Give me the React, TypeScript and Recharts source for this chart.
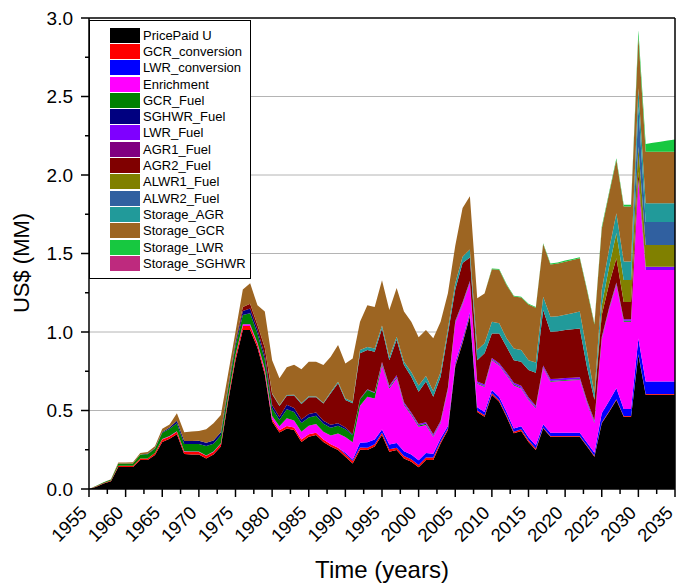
import { AreaChart, Area, XAxis, YAxis, CartesianGrid, ReferenceLine, Legend } from 'recharts';

const FONT = 'Arial, "Liberation Sans", sans-serif';

const years = [
  1955, 1956, 1957, 1958, 1959, 1960, 1961, 1962, 1963, 1964,
  1965, 1966, 1967, 1968, 1969, 1970, 1971, 1972, 1973, 1974,
  1975, 1976, 1977, 1978, 1979, 1980, 1981, 1982, 1983, 1984,
  1985, 1986, 1987, 1988, 1989, 1990, 1991, 1992, 1993, 1994,
  1995, 1996, 1997, 1998, 1999, 2000, 2001, 2002, 2003, 2004,
  2005, 2006, 2007, 2008, 2009, 2010, 2011, 2012, 2013, 2014,
  2015, 2016, 2017, 2018, 2019, 2020, 2021, 2022, 2023, 2024,
  2025, 2026, 2027, 2028, 2029, 2030, 2031, 2032, 2033, 2034,
  2035,
];

const pricePaidU = [
  0, 0.015, 0.035, 0.05, 0.14, 0.14, 0.14, 0.185, 0.185, 0.217,
  0.3, 0.32, 0.348, 0.223, 0.22, 0.22, 0.195, 0.22, 0.27, 0.56,
  0.82, 1.013, 1.013, 0.9, 0.73, 0.43, 0.36, 0.386, 0.376, 0.3,
  0.333, 0.344, 0.3, 0.27, 0.248, 0.206, 0.163, 0.25, 0.248, 0.27,
  0.344, 0.238, 0.248, 0.195, 0.174, 0.138, 0.185, 0.185, 0.29, 0.376,
  0.78, 0.93, 1.1, 0.49, 0.46, 0.6, 0.556, 0.46, 0.355, 0.37,
  0.3, 0.248, 0.387, 0.333, 0.333, 0.333, 0.333, 0.333, 0.27, 0.206,
  0.418, 0.49, 0.567, 0.46, 0.46, 0.853, 0.6, 0.6, 0.6, 0.6,
  0.6,
];

const gcrConversion = [
  0, 0.002, 0.003, 0.004, 0.008, 0.008, 0.008, 0.01, 0.01, 0.012,
  0.015, 0.015, 0.017, 0.015, 0.016, 0.016, 0.016, 0.016, 0.018, 0.02,
  0.025, 0.025, 0.025, 0.02, 0.02, 0.015, 0.015, 0.015, 0.015, 0.015,
  0.015, 0.015, 0.015, 0.015, 0.015, 0.015, 0.015, 0.015, 0.015, 0.015,
  0.015, 0.015, 0.015, 0.015, 0.015, 0.015, 0.015, 0.015, 0.012, 0.01,
  0.01, 0.01, 0.01, 0.01, 0.01, 0.01, 0.01, 0.01, 0.01, 0.01,
  0.01, 0.01, 0.005, 0.005, 0.005, 0.005, 0.005, 0.005, 0.005, 0.005,
  0.005, 0.005, 0.005, 0.005, 0.005, 0.005, 0.005, 0.005, 0.005, 0.005,
  0.005,
];

const lwrConversion = [
  0, 0, 0, 0, 0, 0, 0, 0, 0, 0,
  0, 0, 0, 0, 0, 0, 0, 0, 0, 0,
  0, 0, 0, 0, 0, 0, 0, 0, 0, 0,
  0, 0, 0, 0, 0, 0.01, 0.01, 0.03, 0.035, 0.03,
  0.02, 0.03, 0.03, 0.03, 0.03, 0.03, 0.03, 0.025, 0.02, 0.015,
  0.015, 0.015, 0.015, 0.02, 0.02, 0.02, 0.02, 0.02, 0.02, 0.02,
  0.02, 0.02, 0.02, 0.02, 0.02, 0.02, 0.02, 0.02, 0.02, 0.02,
  0.06, 0.065, 0.07, 0.045, 0.045, 0.1, 0.08, 0.08, 0.08, 0.08,
  0.08,
];

const enrichment = [
  0, 0, 0, 0, 0, 0, 0, 0, 0, 0,
  0.003, 0.003, 0.003, 0.003, 0.003, 0.003, 0.003, 0.003, 0.004, 0.005,
  0.007, 0.012, 0.012, 0.01, 0.015, 0.02, 0.025, 0.05, 0.045, 0.05,
  0.055, 0.055, 0.05, 0.055, 0.09, 0.1, 0.11, 0.235, 0.29, 0.262,
  0.41, 0.357, 0.412, 0.295, 0.252, 0.214, 0.178, 0.108, 0.096, 0.23,
  0.25, 0.22, 0.185, 0.15, 0.16, 0.19, 0.2, 0.235, 0.275, 0.24,
  0.237, 0.236, 0.358, 0.325, 0.328, 0.332, 0.334, 0.336, 0.25, 0.19,
  0.47, 0.58, 0.658, 0.556, 0.556, 1.0, 0.71, 0.71, 0.71, 0.71,
  0.71,
];

const gcrFuel = [
  0, 0.003, 0.005, 0.006, 0.015, 0.015, 0.015, 0.025, 0.027, 0.028,
  0.04, 0.045, 0.05, 0.046, 0.047, 0.048, 0.06, 0.05, 0.05, 0.05,
  0.06, 0.058, 0.07, 0.06, 0.06, 0.05, 0.04, 0.057, 0.055, 0.055,
  0.053, 0.053, 0.05, 0.05, 0.05, 0.05, 0.045, 0.04, 0.042, 0.035,
  0.01, 0.008, 0.008, 0.007, 0.007, 0.007, 0.007, 0.005, 0.005, 0.005,
  0.005, 0.005, 0.005, 0.005, 0.005, 0.005, 0.005, 0.005, 0.005, 0.005,
  0.005, 0.005, 0.005, 0.005, 0.005, 0.005, 0.005, 0.005, 0.005, 0.005,
  0.005, 0.005, 0.005, 0.005, 0.005, 0.005, 0, 0, 0, 0,
  0,
];

const sghwrFuel = [
  0, 0, 0, 0, 0, 0, 0, 0, 0.003, 0.003,
  0.005, 0.008, 0.017, 0.019, 0.02, 0.02, 0.02, 0.02, 0.02, 0.015,
  0.02, 0.026, 0.03, 0.025, 0.025, 0.02, 0.018, 0.028, 0.025, 0.022,
  0.021, 0.021, 0.02, 0.02, 0.015, 0.01, 0.005, 0.005, 0.003, 0,
  0, 0, 0, 0, 0, 0, 0, 0, 0, 0,
  0, 0, 0, 0, 0, 0, 0, 0, 0, 0,
  0, 0, 0, 0, 0, 0, 0, 0, 0, 0,
  0, 0, 0, 0, 0, 0, 0, 0, 0, 0,
  0,
];

const lwrFuel = [
  0, 0, 0, 0, 0, 0, 0, 0, 0, 0,
  0, 0, 0, 0, 0, 0, 0, 0, 0, 0,
  0, 0, 0, 0, 0, 0, 0, 0, 0, 0,
  0, 0, 0, 0, 0, 0, 0, 0, 0.002, 0.005,
  0.01, 0.01, 0.012, 0.01, 0.01, 0.01, 0.01, 0.01, 0.01, 0.01,
  0.01, 0.01, 0.01, 0.01, 0.01, 0.01, 0.01, 0.012, 0.012, 0.012,
  0.012, 0.012, 0.012, 0.012, 0.012, 0.012, 0.012, 0.012, 0.012, 0.012,
  0.01, 0.01, 0.01, 0.01, 0.01, 0.012, 0.021, 0.021, 0.021, 0.021,
  0.021,
];

const agr1Fuel = [
  0, 0, 0, 0, 0, 0, 0, 0, 0, 0,
  0, 0, 0, 0, 0, 0, 0, 0, 0, 0,
  0, 0, 0, 0, 0, 0, 0, 0, 0, 0,
  0, 0, 0, 0, 0, 0, 0, 0, 0, 0,
  0, 0, 0, 0, 0, 0, 0, 0, 0, 0,
  0, 0, 0, 0, 0, 0, 0, 0, 0, 0,
  0, 0, 0, 0, 0, 0, 0, 0, 0, 0,
  0, 0, 0, 0, 0, 0, 0, 0, 0, 0,
  0,
];

const agr2Fuel = [
  0, 0, 0, 0, 0, 0, 0, 0, 0, 0,
  0, 0, 0, 0, 0, 0, 0, 0, 0, 0.005,
  0.01, 0.026, 0.03, 0.03, 0.05, 0.07, 0.07, 0.058, 0.08, 0.1,
  0.108, 0.096, 0.11, 0.2, 0.255, 0.176, 0.198, 0.29, 0.25, 0.258,
  0.213, 0.162, 0.225, 0.238, 0.227, 0.206, 0.259, 0.24, 0.282, 0.345,
  0.2, 0.25, 0.15, 0.135, 0.2, 0.155, 0.19, 0.164, 0.143, 0.153,
  0.174, 0.209, 0.353, 0.302, 0.302, 0.305, 0.309, 0.312, 0.21, 0.13,
  0.14, 0.15, 0.155, 0.11, 0.11, 0.045, 0, 0, 0, 0,
  0,
];

const alwr1Fuel = [
  0, 0, 0, 0, 0, 0, 0, 0, 0, 0,
  0, 0, 0, 0, 0, 0, 0, 0, 0, 0,
  0, 0, 0, 0, 0, 0, 0, 0, 0, 0,
  0, 0, 0, 0, 0, 0, 0, 0, 0, 0,
  0, 0, 0, 0, 0, 0, 0, 0, 0, 0,
  0, 0, 0, 0, 0, 0, 0, 0, 0, 0,
  0, 0, 0, 0, 0, 0, 0, 0, 0, 0,
  0.06, 0.11, 0.16, 0.14, 0.14, 0.16, 0.138, 0.138, 0.138, 0.138,
  0.138,
];

const alwr2Fuel = [
  0, 0, 0, 0, 0, 0, 0, 0, 0, 0,
  0, 0, 0, 0, 0, 0, 0, 0, 0, 0,
  0, 0, 0, 0, 0, 0, 0, 0, 0, 0,
  0, 0, 0, 0, 0, 0, 0, 0, 0, 0,
  0, 0, 0, 0, 0, 0, 0, 0, 0, 0,
  0, 0, 0, 0, 0, 0, 0, 0, 0, 0,
  0, 0, 0, 0, 0, 0, 0, 0, 0, 0,
  0, 0, 0, 0, 0, 0.255, 0.146, 0.146, 0.146, 0.146,
  0.146,
];

const storageAgr = [
  0, 0, 0, 0, 0, 0, 0, 0, 0, 0,
  0, 0, 0, 0, 0, 0, 0, 0, 0, 0,
  0, 0, 0, 0, 0, 0.005, 0.005, 0.005, 0.005, 0.005,
  0.005, 0.005, 0.005, 0.008, 0.01, 0.01, 0.01, 0.02, 0.02, 0.02,
  0.02, 0.02, 0.02, 0.02, 0.03, 0.04, 0.035, 0.035, 0.03, 0.03,
  0.04, 0.04, 0.05, 0.065, 0.063, 0.076, 0.065, 0.054, 0.075, 0.075,
  0.062, 0.065, 0.085, 0.095, 0.095, 0.098, 0.102, 0.107, 0.1, 0.04,
  0.1, 0.11, 0.126, 0.118, 0.118, 0.117, 0.12, 0.12, 0.12, 0.12,
  0.12,
];

const storageGcr = [
  0, 0, 0, 0.002, 0.005, 0.005, 0.007, 0.01, 0.01, 0.012,
  0.02, 0.02, 0.047, 0.055, 0.06, 0.063, 0.086, 0.11, 0.11, 0.08,
  0.06, 0.11, 0.13, 0.125, 0.23, 0.21, 0.172, 0.176, 0.19, 0.215,
  0.22, 0.221, 0.24, 0.225, 0.234, 0.223, 0.276, 0.18, 0.265, 0.265,
  0.288, 0.3, 0.31, 0.32, 0.321, 0.306, 0.294, 0.337, 0.32, 0.226,
  0.24, 0.31, 0.34, 0.33, 0.318, 0.334, 0.34, 0.34, 0.331, 0.335,
  0.355, 0.35, 0.335, 0.333, 0.336, 0.338, 0.338, 0.339, 0.39, 0.44,
  0.39, 0.355, 0.34, 0.35, 0.35, 0.33, 0.328, 0.328, 0.328, 0.328,
  0.328,
];

const storageLwr = [
  0, 0, 0, 0, 0, 0, 0, 0, 0, 0,
  0, 0, 0, 0, 0, 0, 0, 0, 0, 0,
  0, 0, 0, 0, 0, 0, 0, 0, 0, 0,
  0, 0, 0, 0, 0, 0, 0, 0, 0, 0,
  0, 0, 0, 0, 0, 0, 0, 0, 0, 0,
  0, 0, 0, 0, 0, 0.005, 0.005, 0.005, 0.005, 0.005,
  0.005, 0.005, 0.005, 0.007, 0.007, 0.007, 0.007, 0.007, 0.008, 0.007,
  0.012, 0.01, 0.01, 0.012, 0.012, 0.04, 0.05, 0.057, 0.064, 0.071,
  0.078,
];

const storageSghwr = [
  0, 0, 0, 0, 0, 0, 0, 0, 0, 0,
  0, 0, 0, 0, 0, 0, 0, 0, 0, 0,
  0, 0, 0, 0, 0, 0, 0, 0, 0, 0,
  0, 0, 0, 0, 0, 0, 0, 0, 0, 0,
  0, 0, 0, 0, 0, 0, 0, 0, 0, 0,
  0, 0, 0, 0, 0, 0, 0, 0, 0, 0,
  0, 0, 0, 0, 0, 0, 0, 0, 0, 0,
  0, 0, 0, 0, 0, 0, 0, 0, 0, 0,
  0,
];

const xTicks = [
  1955, 1957.5, 1960, 1962.5, 1965, 1967.5, 1970, 1972.5, 1975, 1977.5,
  1980, 1982.5, 1985, 1987.5, 1990, 1992.5, 1995, 1997.5, 2000, 2002.5,
  2005, 2007.5, 2010, 2012.5, 2015, 2017.5, 2020, 2022.5, 2025, 2027.5,
  2030, 2032.5, 2035,
];
const yTicks = [0, 0.25, 0.5, 0.75, 1, 1.25, 1.5, 1.75, 2, 2.25, 2.5, 2.75, 3];
const gridValues = [0.5, 1, 1.5, 2, 2.5];

const series = [
  { key: 'pricePaidU', name: 'PricePaid U', color: '#000000', values: pricePaidU },
  { key: 'gcrConversion', name: 'GCR_conversion', color: '#FF0000', values: gcrConversion },
  { key: 'lwrConversion', name: 'LWR_conversion', color: '#0000FF', values: lwrConversion },
  { key: 'enrichment', name: 'Enrichment', color: '#FF00FF', values: enrichment },
  { key: 'gcrFuel', name: 'GCR_Fuel', color: '#008000', values: gcrFuel },
  { key: 'sghwrFuel', name: 'SGHWR_Fuel', color: '#000080', values: sghwrFuel },
  { key: 'lwrFuel', name: 'LWR_Fuel', color: '#7F00FF', values: lwrFuel },
  { key: 'agr1Fuel', name: 'AGR1_Fuel', color: '#800080', values: agr1Fuel },
  { key: 'agr2Fuel', name: 'AGR2_Fuel', color: '#800000', values: agr2Fuel },
  { key: 'alwr1Fuel', name: 'ALWR1_Fuel', color: '#808000', values: alwr1Fuel },
  { key: 'alwr2Fuel', name: 'ALWR2_Fuel', color: '#3060A0', values: alwr2Fuel },
  { key: 'storageAgr', name: 'Storage_AGR', color: '#219A9A', values: storageAgr },
  { key: 'storageGcr', name: 'Storage_GCR', color: '#9D6522', values: storageGcr },
  { key: 'storageLwr', name: 'Storage_LWR', color: '#17C840', values: storageLwr },
  { key: 'storageSghwr', name: 'Storage_SGHWR', color: '#BE2A7E', values: storageSghwr },
];

const data = years.map((year, i) => {
  const row: Record<string, number> = { year };
  series.forEach((s) => {
    row[s.key] = s.values[i];
  });
  return row;
});

const YTick = ({ x, y, payload }: any) => {
  const v = payload.value;
  const major = Math.abs(v * 2 - Math.round(v * 2)) < 1e-6;
  return (
    <g>
      <line x1={x - (major ? 8 : 4)} x2={x} y1={y} y2={y} stroke="#000" strokeWidth={1.5} />
      {major && (
        <text x={x - 16} y={y} dy="0.36em" textAnchor="end" fontSize={19} fontFamily={FONT} fill="#000">
          {v.toFixed(1)}
        </text>
      )}
    </g>
  );
};

const XTick = ({ x, y, payload }: any) => {
  const v = payload.value;
  const major = v % 5 === 0;
  const ax = x - 1;
  const ay = y + 25;
  return (
    <g>
      <line x1={x} x2={x} y1={y} y2={y + (major ? 8 : 5)} stroke="#000" strokeWidth={1.5} />
      {major && (
        <text
          x={ax}
          y={ay}
          textAnchor="end"
          fontSize={18.5}
          fontFamily={FONT}
          fill="#000"
          transform={`rotate(-45 ${ax} ${ay})`}
        >
          {v}
        </text>
      )}
    </g>
  );
};

const LegendBox = () => (
  <div
    style={{
      width: 162,
      height: 259,
      boxSizing: 'border-box',
      border: '1px solid #000',
      background: '#fff',
      paddingTop: 6,
      fontFamily: FONT,
      fontSize: 13,
      color: '#000',
    }}
  >
    {series.map((s) => (
      <div key={s.key} style={{ display: 'flex', alignItems: 'center', height: 16.3, marginLeft: 20 }}>
        <span style={{ display: 'inline-block', width: 30, height: 15, background: s.color, marginRight: 3 }} />
        <span style={{ lineHeight: '15px', whiteSpace: 'nowrap' }}>{s.name}</span>
      </div>
    ))}
  </div>
);

export default function App() {
  return (
    <div style={{ position: 'absolute', left: 0, top: 0, width: 677, height: 583, background: '#fff', overflow: 'hidden' }}>
      <AreaChart width={677} height={583} data={data} margin={{ top: 18, right: 2, left: 0, bottom: 0 }}>
        <CartesianGrid horizontal vertical={false} horizontalValues={gridValues} stroke="#b4b4b4" strokeWidth={1} />
        <XAxis
          dataKey="year"
          type="number"
          domain={[1955, 2035]}
          ticks={xTicks}
          interval={0}
          height={94}
          tickSize={0}
          tickMargin={0}
          tickLine={false}
          tick={<XTick />}
          axisLine={{ stroke: '#000', strokeWidth: 1.5 }}
          allowDataOverflow
        />
        <YAxis
          type="number"
          domain={[0, 3]}
          ticks={yTicks}
          interval={0}
          width={89}
          tickSize={0}
          tickMargin={0}
          tickLine={false}
          tick={<YTick />}
          axisLine={{ stroke: '#000', strokeWidth: 1.5 }}
          allowDataOverflow
        />
        {series.map((s) => (
          <Area
            key={s.key}
            dataKey={s.key}
            name={s.name}
            stackId="1"
            type="linear"
            stroke="none"
            fill={s.color}
            fillOpacity={1}
            isAnimationActive={false}
          />
        ))}
        <ReferenceLine y={3} stroke="#000" strokeWidth={1.5} />
        <ReferenceLine x={2035} stroke="#000" strokeWidth={1.5} />
        <Legend
          layout="vertical"
          align="center"
          verticalAlign="middle"
          content={<LegendBox />}
          wrapperStyle={{ position: 'absolute', left: 89, top: 20, width: 162, height: 259 }}
        />
      </AreaChart>
      <div
        style={{
          position: 'absolute',
          left: 22,
          top: 263,
          transform: 'translate(-50%, -50%) rotate(-90deg)',
          fontFamily: FONT,
          fontSize: 22,
          whiteSpace: 'nowrap',
          color: '#000',
        }}
      >
        US$ (MM)
      </div>
      <div
        style={{
          position: 'absolute',
          left: 382,
          top: 570,
          transform: 'translate(-50%, -50%)',
          fontFamily: FONT,
          fontSize: 24,
          whiteSpace: 'nowrap',
          color: '#000',
        }}
      >
        Time (years)
      </div>
    </div>
  );
}
